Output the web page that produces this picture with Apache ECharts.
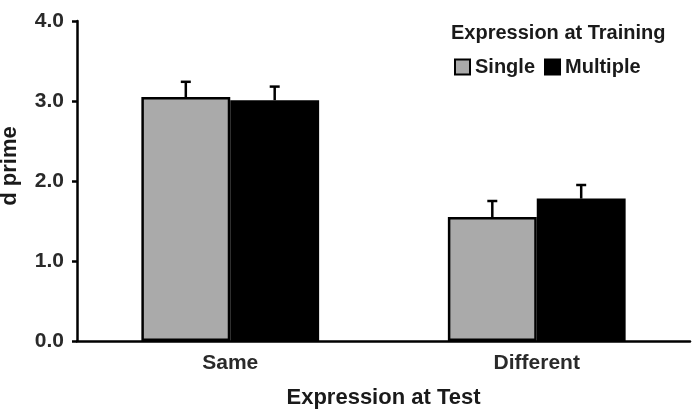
<!DOCTYPE html>
<html>
<head>
<meta charset="utf-8">
<script src="https://cdn.jsdelivr.net/npm/echarts@6/dist/echarts.min.js"></script>
<style>
  html, body { margin: 0; padding: 0; background: #fff; }
  #chart { width: 693px; height: 412px; }
</style>
</head>
<body>
<div id="chart"></div>
<script>
// ===== 数据 =====
const categories = ['Same', 'Different']
const seriesNames = ['Single', 'Multiple']
const singleValues = [3.05, 1.55]
const multipleValues = [3.01, 1.78]
const singleErr = [0.19, 0.20]
const multipleErr = [0.17, 0.17]
const yTicks = ['0.0', '1.0', '2.0', '3.0', '4.0']

const FONT = '"Liberation Sans", Arial, sans-serif'
const GAP = 0.42

const chart = echarts.init(document.getElementById('chart'))

// 误差线（只画向上的一半）
function errorSeries(values, errs, side) {
  return {
    type: 'custom',
    silent: true,
    z: 1,
    data: values.map((v, i) => [i, v, v + errs[i]]),
    renderItem(params, api) {
      const catW = api.size([1, 0])[0]
      const barW = catW * (1 - GAP) / 2
      const base = api.coord([api.value(0), api.value(1)])
      const top = api.coord([api.value(0), api.value(2)])
      const x = base[0] + side * barW / 2
      const style = { stroke: '#000', lineWidth: 2.5 }
      return {
        type: 'group',
        children: [
          { type: 'line', shape: { x1: x, y1: base[1], x2: x, y2: top[1] }, style },
          { type: 'line', shape: { x1: x - 5, y1: top[1], x2: x + 5, y2: top[1] }, style },
        ],
      }
    },
  }
}

const option = {
  animation: false,
  textStyle: { fontFamily: FONT },
  grid: { left: 77, right: 3, top: 21, bottom: 71, containLabel: false, outerBoundsMode: 'none' },
  title: {
    text: 'Expression at Training',
    left: 446,
    top: 18,
    textStyle: { fontFamily: FONT, fontSize: 20, fontWeight: 'bold', color: '#1a1a1a' },
  },
  legend: {
    data: seriesNames,
    left: 449,
    top: 52,
    itemWidth: 15,
    itemHeight: 15,
    itemGap: 9,
    icon: 'rect',
    textStyle: { fontFamily: FONT, fontSize: 20, fontWeight: 'bold', color: '#1a1a1a' },
  },
  xAxis: {
    type: 'category',
    data: categories,
    name: 'Expression at Test',
    nameLocation: 'middle',
    nameGap: 46,
    nameTextStyle: { fontFamily: FONT, fontSize: 22, fontWeight: 'bold', color: '#1a1a1a' },
    axisLine: { lineStyle: { color: '#000', width: 2.5 } },
    axisTick: { show: false },
    axisLabel: { fontFamily: FONT, fontSize: 21, fontWeight: 'bold', color: '#2a2a2a', margin: 12 },
  },
  yAxis: {
    type: 'value',
    min: 0,
    max: 4,
    interval: 1,
    name: 'd prime',
    nameLocation: 'middle',
    nameGap: 56,
    nameTextStyle: { fontFamily: FONT, fontSize: 22, fontWeight: 'bold', color: '#1a1a1a', padding: [0, 0, 0, 30] },
    axisLine: { show: true, lineStyle: { color: '#000', width: 2.5 } },
    axisTick: { show: true, length: 5, lineStyle: { color: '#000', width: 2.5 } },
    splitLine: { show: false },
    axisLabel: {
      fontFamily: FONT, fontSize: 21, fontWeight: 'bold', color: '#2a2a2a', margin: 13,
      formatter: (v) => yTicks[Math.round(v)],
    },
  },
  series: [
    {
      name: 'Single',
      type: 'bar',
      data: singleValues,
      barGap: '0%',
      barCategoryGap: (GAP * 100) + '%',
      z: 2,
      itemStyle: { color: '#aaaaaa', borderColor: '#000', borderWidth: 2.5 },
    },
    {
      name: 'Multiple',
      type: 'bar',
      data: multipleValues,
      z: 2,
      itemStyle: { color: '#000', borderColor: '#000', borderWidth: 2.5 },
    },
    errorSeries(singleValues, singleErr, -1),
    errorSeries(multipleValues, multipleErr, 1),
  ],
}

chart.setOption(option)
</script>
</body>
</html>
